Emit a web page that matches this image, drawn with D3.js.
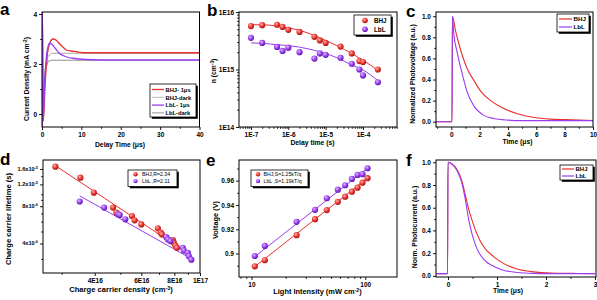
<!DOCTYPE html>
<html><head><meta charset="utf-8">
<script src="https://cdn.jsdelivr.net/npm/d3@7"></script>
<style>body{margin:0;background:#fff}svg{display:block}text{font-family:"Liberation Sans",Arial,sans-serif;fill:#000}</style>
</head><body>
<svg id="chart" width="597" height="300"></svg>
<script>
// ---------- DATA ----------
// panel a: transient photocurrent
const aTime1 = [0,0.05,0.35,0.8,1.3,1.9,2.8,3.6,4.5,5.5,6.2,7.5,8.8,10,11,20,30,40];
const aBHJ1  = [-0.5,4.6,-0.25,1.2,2.3,2.8,3.0,2.95,2.8,2.65,2.56,2.52,2.49,2.46,2.45,2.45,2.45,2.45];
const aTimeL = [0,0.05,0.3,0.7,1.2,1.9,2.6,3.5,4.4,5.5,6.5,7.8,10,15,40];
const aLbL1  = [-0.5,4.6,-0.3,1.3,2.4,2.83,2.78,2.6,2.43,2.33,2.27,2.23,2.19,2.16,2.16];
const aTimeD = [0,0.3,0.8,1.5,2.5,40];
const aBHJdark = [0,0.5,1.8,2.3,2.43,2.43];
const aLbLdark = [0,0.5,1.7,2.1,2.15,2.15];
// panel b: carrier density vs delay time
const bDelay = [1e-7,2e-7,5e-7,7e-7,1e-6,2e-6,5e-6,7e-6,1e-5,2.5e-5,5e-5,8e-5,1e-4,2.5e-4];
const bBHJ = [5.7e15,5.9e15,6.0e15,5.5e15,4.9e15,4.5e15,3.7e15,3.2e15,2.9e15,2.5e15,1.9e15,1.4e15,1.35e15,1.0e15];
const bLbL = [3.55e15,2.9e15,2.47e15,2.1e15,2.4e15,2.0e15,1.55e15,1.9e15,1.8e15,1.6e15,1.26e15,1.0e15,7.9e14,6.0e14];
const bFitX = [1e-7,2e-7,5e-7,1e-6,2e-6,5e-6,1e-5,2e-5,5e-5,1e-4,2.5e-4];
const bFitBHJ = [6.0e15,6.0e15,5.7e15,5.3e15,4.8e15,3.9e15,3.2e15,2.6e15,1.9e15,1.45e15,0.97e15];
const bFitLbL = [2.9e15,2.85e15,2.7e15,2.6e15,2.45e15,2.15e15,1.9e15,1.6e15,1.2e15,0.98e15,0.64e15];
// panel c: transient photovoltage
const cTimeB = [-1.08,0.05,0.08,0.3,0.66,1.13,1.6,2.07,2.78,3.49,4.67,5.85,7,8,10];
const cBHJ   = [0,0,1.0,0.86,0.68,0.5,0.39,0.29,0.2,0.14,0.075,0.04,0.025,0.02,0.012];
const cTimeL = [-1.08,0.05,0.08,0.17,0.41,0.76,1.12,1.59,2.29,3,4,5,6,8,10];
const cLbL   = [0,0,1.0,0.84,0.66,0.46,0.28,0.15,0.06,0.03,0.015,0.01,0.01,0.01,0.01];
// panel d: lifetime vs carrier density
const dDensB = [2.84e16,3.53e16,3.97e16,4.69e16,4.83e16,5.53e16,5.66e16,6.0e16,6.93e16,7.1e16,7.18e16,7.9e16,7.96e16,8.07e16,8.18e16];
const dLifeB = [1.67e-5,1.36e-5,1.03e-5,7.8e-6,7.1e-6,6.67e-6,6.15e-6,5.7e-6,5.3e-6,4.89e-6,4.73e-6,4.26e-6,4.06e-6,3.85e-6,3.69e-6];
const dDensL = [3.51e16,4.34e16,4.9e16,4.97e16,5.22e16,7.46e16,7.57e16,7.73e16,8.61e16,8.69e16,9.0e16,9.08e16,9.27e16];
const dLifeL = [8.73e-6,7.8e-6,6.9e-6,6.8e-6,6.27e-6,4.5e-6,4.31e-6,4.18e-6,3.69e-6,3.51e-6,3.36e-6,3.15e-6,2.96e-6];
const dFitBx = [2.84e16,8.9e16], dFitBy = [1.7e-5,3.38e-6];
const dFitLx = [3.51e16,9.1e16], dFitLy = [9.7e-6,3.08e-6];
// panel e: Voc vs light intensity
const eLight = [10.7,13.1,24.9,36.2,45.9,57.4,66.6,76.3,85.5,94.6,104.7];
const eBHJ = [0.8895,0.8945,0.9151,0.9283,0.9358,0.9426,0.9468,0.9509,0.9542,0.9583,0.962];
const eLbL = [0.898,0.9063,0.9261,0.936,0.9455,0.9526,0.9562,0.9614,0.9647,0.9653,0.9702];
const eFitX = [10.7,104.7], eFitBHJ = [0.8893,0.9622], eFitLbL = [0.8975,0.9703];
// panel f: transient photocurrent
const fTime = [-0.24,-0.01,0,0.08,0.18,0.28,0.35,0.42,0.49,0.59,0.72,0.93,1.13,1.41,1.75,2.09,2.5,3.0];
const fBHJ = [0.02,0.02,1.0,0.985,0.94,0.84,0.72,0.59,0.49,0.37,0.26,0.17,0.11,0.06,0.035,0.025,0.022,0.02];
const fLbL = [0.02,0.02,1.0,0.985,0.93,0.82,0.68,0.5,0.37,0.24,0.15,0.085,0.05,0.03,0.022,0.02,0.02,0.02];

// ---------- STYLE ----------
const RED = "#e8302e", PURPLE = "#9a3cf2", GRAY1 = "#a8a8a8", GRAY2 = "#777";
const svg = d3.select("#chart");
const defs = svg.append("defs");
function grad(id, c0, c1, c2){
  const g = defs.append("radialGradient").attr("id",id).attr("cx","38%").attr("cy","35%").attr("r","65%");
  g.append("stop").attr("offset","0%").attr("stop-color",c0);
  g.append("stop").attr("offset","55%").attr("stop-color",c1);
  g.append("stop").attr("offset","100%").attr("stop-color",c2);
}
grad("gRed","#ffb0a8","#ea3a34","#a8120f");
grad("gPur","#dcb6ff","#9c44f2","#5c14a8");

function panel(cfg){
  const g = svg.append("g");
  const {x0,x1,y0,y1,xs,ys} = cfg;
  const cid = "clip"+cfg.name;
  defs.append("clipPath").attr("id",cid).append("rect").attr("x",x0).attr("y",y0).attr("width",x1-x0).attr("height",y1-y0);
  const plot = g.append("g").attr("clip-path",`url(#${cid})`);
  const ax = d3.axisBottom(xs).tickValues(cfg.xt).tickFormat(cfg.xf).tickSizeOuter(0).tickSizeInner(3).tickPadding(2);
  const gx = g.append("g").attr("transform",`translate(0,${y1})`).call(ax);
  const axm = d3.axisBottom(xs).tickValues(cfg.xm).tickFormat("").tickSizeOuter(0).tickSizeInner(1.8);
  g.append("g").attr("transform",`translate(0,${y1})`).call(axm);
  const ay = d3.axisLeft(ys).tickValues(cfg.yt).tickFormat(cfg.yf).tickSizeOuter(0).tickSizeInner(3).tickPadding(2);
  const gy = g.append("g").attr("transform",`translate(${x0},0)`).call(ay);
  const aym = d3.axisLeft(ys).tickValues(cfg.ym).tickFormat("").tickSizeOuter(0).tickSizeInner(1.8);
  g.append("g").attr("transform",`translate(${x0},0)`).call(aym);
  g.selectAll(".domain").remove();
  g.selectAll(".tick line").attr("stroke","#000").attr("stroke-width",0.9);
  g.selectAll(".tick text").attr("font-size",cfg.tfs||6.5).attr("font-weight","bold").attr("font-family",'"Liberation Sans",Arial,sans-serif').attr("fill","#000");
  g.append("rect").attr("x",x0).attr("y",y0).attr("width",x1-x0).attr("height",y1-y0)
    .attr("fill","none").attr("stroke","#000").attr("stroke-width",1);
  const xt = g.append("text").attr("x",cfg.xlx).attr("y",cfg.xly).attr("text-anchor","middle")
    .attr("font-size",cfg.lfs||6.8).attr("font-weight","bold");
  cfg.xlab(xt);
  const yt = g.append("text").attr("transform",`translate(${cfg.ylx},${cfg.yly}) rotate(-90)`).attr("text-anchor","middle")
    .attr("font-size",cfg.lfs||6.8).attr("font-weight","bold");
  cfg.ylab(yt);
  g.append("text").attr("x",cfg.lx).attr("y",cfg.ly).attr("font-size",17).attr("font-weight","bold").text(cfg.name);
  return {g, plot, gx, gy};
}
function sup(t, base, s, after){
  t.append("tspan").text(base);
  t.append("tspan").attr("dy",-2.5).attr("font-size","70%").text(s);
  t.append("tspan").attr("dy",2.5).text(after);
}
function legendBox(x,y,w,h){
  svg.append("rect").attr("x",x+1.8).attr("y",y+1.8).attr("width",w).attr("height",h).attr("fill","#000");
  svg.append("rect").attr("x",x).attr("y",y).attr("width",w).attr("height",h).attr("fill","#fff").attr("stroke","#000").attr("stroke-width",0.8);
}
function zipLine(xs, ys, X, Y){ return d3.line().x(i=>xs(X[i])).y(i=>ys(Y[i]))(d3.range(X.length)); }
function zipCurve(xs, ys, X, Y){ return d3.line().curve(d3.curveMonotoneX).x(i=>xs(X[i])).y(i=>ys(Y[i]))(d3.range(X.length)); }
function dots(plot, xs, ys, X, Y, fill){
  plot.selectAll(null).data(d3.range(X.length)).enter().append("circle")
    .attr("cx",i=>xs(X[i])).attr("cy",i=>ys(Y[i])).attr("r",3.1).attr("fill",fill);
}

// ---------- PANEL a ----------
{
  const xs = d3.scaleLinear().domain([0,40]).range([42,199.5]);
  const ys = d3.scaleLinear().domain([-0.52,4.08]).range([127,12]);
  const P = panel({name:"a",x0:42,x1:199.5,y0:12,y1:127,xs,ys,
    xt:[0,10,20,30,40],xm:[5,15,25,35],xf:d3.format("d"),
    yt:[0,2,4],ym:[1,3],yf:d3.format("d"),
    xlx:120,xly:147,ylx:29,yly:79,lx:0,ly:15,
    xlab:t=>t.text("Delay Time (μs)"),
    ylab:t=>sup(t,"Current Density (mA cm","-2",")")});
  P.plot.append("path").attr("d",zipLine(xs,ys,aTimeD,aBHJdark)).attr("fill","none").attr("stroke",GRAY1).attr("stroke-width",1);
  P.plot.append("path").attr("d",zipLine(xs,ys,aTimeD,aLbLdark)).attr("fill","none").attr("stroke",GRAY2).attr("stroke-width",0.8);
  P.plot.append("path").attr("d",zipCurve(xs,ys,aTime1,aBHJ1)).attr("fill","none").attr("stroke",RED).attr("stroke-width",1.3);
  P.plot.append("path").attr("d",zipCurve(xs,ys,aTimeL,aLbL1)).attr("fill","none").attr("stroke",PURPLE).attr("stroke-width",1.3);
  legendBox(150,84,46,33);
  const names = ["BHJ- 1μs","BHJ-dark","LbL- 1μs","LbL-dark"];
  const cols = [RED,GRAY1,PURPLE,GRAY2];
  names.forEach((n,i)=>{
    const y = 89.5+i*7.8;
    svg.append("line").attr("x1",152).attr("x2",164).attr("y1",y).attr("y2",y).attr("stroke",cols[i]).attr("stroke-width",i%2?0.8:1.3);
    svg.append("text").attr("x",165.5).attr("y",y+2.2).attr("font-size",5.8).attr("font-weight","bold").text(n);
  });
}
// ---------- PANEL b ----------
{
  const xs = d3.scaleLog().domain([Math.pow(10,-7.32),Math.pow(10,-3.09)]).range([239,397]);
  const ys = d3.scaleLog().domain([1e14,1e16]).range([127,12]);
  const xm=[]; for(let e=-8;e<=-4;e++) for(let k=2;k<=9;k++){const v=k*Math.pow(10,e); if(v>xs.domain()[0]&&v<xs.domain()[1]) xm.push(v);}
  const ym=[]; for(let e=14;e<=15;e++) for(let k=2;k<=9;k++) ym.push(k*Math.pow(10,e));
  const ef = d=>"1E"+Math.round(Math.log10(d));
  const P = panel({name:"b",x0:239,x1:397,y0:12,y1:127,xs,ys,
    xt:[1e-7,1e-6,1e-5,1e-4],xm,xf:ef,yt:[1e14,1e15,1e16],ym,yf:ef,
    xlx:312.5,xly:145,ylx:216,yly:71,lx:207,ly:16,
    xlab:t=>t.text("Delay time (s)"),
    ylab:t=>sup(t,"n (cm","-3",")")});
  P.plot.append("path").attr("d",zipCurve(xs,ys,bFitX,bFitBHJ)).attr("fill","none").attr("stroke",RED).attr("stroke-width",1);
  P.plot.append("path").attr("d",zipCurve(xs,ys,bFitX,bFitLbL)).attr("fill","none").attr("stroke",PURPLE).attr("stroke-width",1);
  dots(P.plot,xs,ys,bDelay,bBHJ,"url(#gRed)");
  dots(P.plot,xs,ys,bDelay,bLbL,"url(#gPur)");
  legendBox(354,15,37,20);
  [["BHJ","url(#gRed)"],["LbL","url(#gPur)"]].forEach((d,i)=>{
    const y=20.5+i*8.8;
    svg.append("circle").attr("cx",365).attr("cy",y).attr("r",2.8).attr("fill",d[1]);
    svg.append("text").attr("x",374).attr("y",y+2.3).attr("font-size",6.3).attr("font-weight","bold").text(d[0]);
  });
}
// ---------- PANEL c ----------
{
  const xs = d3.scaleLinear().domain([-1.08,10]).range([436,593]);
  const ys = d3.scaleLinear().domain([-0.05,1.04]).range([127,12]);
  const P = panel({name:"c",x0:436,x1:593,y0:12,y1:127,xs,ys,
    xt:[0,2,4,6,8,10],xm:[-1,1,3,5,7,9],xf:d3.format("d"),
    yt:[0,0.2,0.4,0.6,0.8,1.0],ym:[0.1,0.3,0.5,0.7,0.9],yf:d3.format(".1f"),
    xlx:517.5,xly:144,ylx:415,yly:74,lx:406,ly:17,
    xlab:t=>t.text("Time (μs)"),
    ylab:t=>t.text("Normalized Photovoltage (a.u.)")});
  P.plot.append("path").attr("d",zipCurve(xs,ys,cTimeB,cBHJ)).attr("fill","none").attr("stroke",RED).attr("stroke-width",1.1).attr("stroke-linejoin","round");
  P.plot.append("path").attr("d",zipCurve(xs,ys,cTimeL,cLbL)).attr("fill","none").attr("stroke",PURPLE).attr("stroke-width",1.1).attr("stroke-linejoin","round");
  legendBox(557,14,32,18);
  [["BHJ",RED],["LbL",PURPLE]].forEach((d,i)=>{
    const y=19+i*8;
    svg.append("line").attr("x1",559).attr("x2",572).attr("y1",y).attr("y2",y).attr("stroke",d[1]).attr("stroke-width",1.2);
    svg.append("text").attr("x",573.5).attr("y",y+2.2).attr("font-size",6.2).attr("font-weight","bold").text(d[0]);
  });
}
// ---------- PANEL d ----------
{
  const xs = d3.scaleLog().domain([2.55e16,1.0e17]).range([43,200]);
  const ys = d3.scaleLog().domain([2.31e-6,1.89e-5]).range([273,160]);
  const P = panel({name:"d",x0:43,x1:200,y0:160,y1:273,xs,ys,
    xt:[4e16,6e16,8e16,1e17],xm:[3e16,5e16,7e16,9e16],xf:d=>Math.round(d/1e16)===10?"1E17":Math.round(d/1e16)+"E16",
    yt:[4e-6,8e-6,1.2e-5,1.6e-5],ym:[3e-6,5e-6,6e-6,7e-6,9e-6,1e-5,1.4e-5],yf:()=>"",
    xlx:121,xly:292,ylx:11,yly:219,lx:0,ly:165,lfs:7.6,
    xlab:t=>sup(t,"Charge carrier density (cm","-3",")"),
    ylab:t=>t.text("Charge carrier  lifetime (s)")});
  const ylabs = [[4e-6,"4x10","-6"],[8e-6,"8x10","-6"],[1.2e-5,"1.2x10","-5"],[1.6e-5,"1.6x10","-5"]];
  ylabs.forEach(d=>{
    const t = svg.append("text").attr("x",38).attr("y",ys(d[0])+2).attr("text-anchor","end").attr("font-size",5.6).attr("font-weight","bold");
    t.append("tspan").text(d[1]);
    t.append("tspan").attr("dy",-2.3).attr("font-size",3.8).text(d[2]);
  });
  P.plot.append("path").attr("d",zipLine(xs,ys,dFitBx,dFitBy)).attr("stroke",RED).attr("stroke-width",1);
  P.plot.append("path").attr("d",zipLine(xs,ys,dFitLx,dFitLy)).attr("stroke",PURPLE).attr("stroke-width",1);
  dots(P.plot,xs,ys,dDensB,dLifeB,"url(#gRed)");
  dots(P.plot,xs,ys,dDensL,dLifeL,"url(#gPur)");
  legendBox(128,170,49,16.5);
  [["BHJ,R=2.34","url(#gRed)"],["LbL ,R=2.11","url(#gPur)"]].forEach((d,i)=>{
    const y=174.3+i*6.8;
    svg.append("circle").attr("cx",135.5).attr("cy",y).attr("r",2.2).attr("fill",d[1]);
    svg.append("text").attr("x",142).attr("y",y+1.9).attr("font-size",5.2).text(d[0]);
  });
}
// ---------- PANEL e ----------
{
  const xs = d3.scaleLog().domain([7.77,190]).range([239,397]);
  const ys = d3.scaleLinear().domain([0.8807,0.977]).range([277,160]);
  const xm=[8,9,20,30,40,50,60,70,80,90];
  const P = panel({name:"e",x0:239,x1:397,y0:160,y1:277,xs,ys,
    xt:[10,100],xm,xf:d3.format("d"),
    yt:[0.9,0.92,0.94,0.96],ym:[0.89,0.91,0.93,0.95,0.97],yf:d=>d===0.9?"0.9":d3.format(".2f")(d),
    xlx:317.5,xly:294,ylx:218,yly:220,lx:206,ly:166,lfs:7.4,
    xlab:t=>sup(t,"Light Intensity (mW cm","-2",")"),
    ylab:t=>t.text("Voltage (V)")});
  P.plot.append("path").attr("d",zipLine(xs,ys,eFitX,eFitBHJ)).attr("stroke",RED).attr("stroke-width",1);
  P.plot.append("path").attr("d",zipLine(xs,ys,eFitX,eFitLbL)).attr("stroke",PURPLE).attr("stroke-width",1);
  dots(P.plot,xs,ys,eLight,eBHJ,"url(#gRed)");
  dots(P.plot,xs,ys,eLight,eLbL,"url(#gPur)");
  legendBox(251,170,57,16.5);
  [["BHJ,S=1.25kT/q","url(#gRed)"],["LbL ,S=1.19kT/q","url(#gPur)"]].forEach((d,i)=>{
    const y=174.3+i*6.8;
    svg.append("circle").attr("cx",258).attr("cy",y).attr("r",2.2).attr("fill",d[1]);
    svg.append("text").attr("x",263.5).attr("y",y+1.9).attr("font-size",5.2).text(d[0]);
  });
}
// ---------- PANEL f ----------
{
  const xs = d3.scaleLinear().domain([-0.245,3.02]).range([436,596]);
  const ys = d3.scaleLinear().domain([-0.01,1.02]).range([277,160]);
  const P = panel({name:"f",x0:436,x1:596,y0:160,y1:277,xs,ys,
    xt:[0,1,2,3],xm:[0.5,1.5,2.5],xf:d3.format("d"),
    yt:[0,0.2,0.4,0.6,0.8,1.0],ym:[0.1,0.3,0.5,0.7,0.9],yf:d3.format(".1f"),
    xlx:508,xly:293,ylx:417,yly:227,lx:406,ly:166,
    xlab:t=>t.text("Time (μs)"),
    ylab:t=>t.text("Norm. Photocurrent (a.u.)")});
  P.plot.append("path").attr("d",zipCurve(xs,ys,fTime,fBHJ)).attr("fill","none").attr("stroke",RED).attr("stroke-width",1.1);
  P.plot.append("path").attr("d",zipCurve(xs,ys,fTime,fLbL)).attr("fill","none").attr("stroke",PURPLE).attr("stroke-width",1.1);
  legendBox(560,165,33,15);
  [["BHJ",RED],["LbL",PURPLE]].forEach((d,i)=>{
    const y=169+i*7;
    svg.append("line").attr("x1",562).attr("x2",574).attr("y1",y).attr("y2",y).attr("stroke",d[1]).attr("stroke-width",1.2);
    svg.append("text").attr("x",575.5).attr("y",y+2.2).attr("font-size",6).attr("font-weight","bold").text(d[0]);
  });
}
</script>
</body></html>
